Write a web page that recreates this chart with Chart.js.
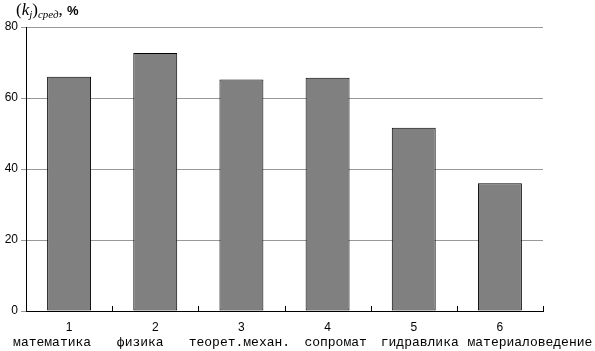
<!DOCTYPE html>
<html>
<head>
<meta charset="utf-8">
<script src="https://cdn.jsdelivr.net/npm/chart.js@4"></script>
<style>
  body { margin: 0; background: #fff; }
  #wrap { position: relative; width: 595px; height: 351px; }
  #ttl { position: absolute; left: 16px; top: 0px; font-family: "Liberation Serif", serif; font-size: 17px; color: #000; white-space: nowrap; }
  #ttl i { font-style: italic; }
  #ttl sub { font-size: 11px; font-style: italic; vertical-align: -3px; }
  #ttl b { font-family: "Liberation Sans", Arial, sans-serif; font-size: 13px; }
</style>
</head>
<body>
<div id="wrap">
  <canvas id="chart" width="595" height="351"></canvas>
  <div id="ttl">(<i>k<sub>j</sub></i>)<sub>сред</sub>, <b>%</b></div>
</div>
<script>
const numbers = ["1", "2", "3", "4", "5", "6"];
const subjects = ["математика", "физика", "теорет.механ.", "сопромат", "гидравлика", "материаловедение"];
const values = [66, 72.7, 65.2, 65.7, 51.6, 36];
const yTicks = [0, 20, 40, 60, 80];
// horizontal shift of each subject name relative to its category centre
const nameShift = [-17, -15, -2, 8, 6, 30];

// short tick marks above the x axis at category boundaries + two-line category labels
const xLabels = {
  id: "xLabels",
  afterDraw(chart) {
    const area = chart.chartArea;
    const x = chart.scales.x;
    const ctx = chart.ctx;
    const step = (area.right - area.left) / numbers.length;
    ctx.save();
    ctx.strokeStyle = "#000";
    ctx.lineWidth = 1;
    for (let i = 1; i <= numbers.length; i++) {
      const px = Math.round(area.left + step * i) + 0.5;
      ctx.beginPath();
      ctx.moveTo(px, area.bottom);
      ctx.lineTo(px, area.bottom - 5);
      ctx.stroke();
    }
    ctx.fillStyle = "#000";
    ctx.textAlign = "center";
    ctx.textBaseline = "middle";
    numbers.forEach((n, i) => {
      const cx = x.getPixelForValue(i);
      ctx.font = "12px 'Liberation Sans'";
      ctx.fillText(n, cx, area.bottom + 17);
      ctx.font = "13px 'Liberation Mono'";
      ctx.fillText(subjects[i], cx + nameShift[i], area.bottom + 32);
    });
    ctx.restore();
  }
};

new Chart(document.getElementById("chart").getContext("2d"), {
  type: "bar",
  data: {
    labels: numbers,
    datasets: [{
      data: values,
      backgroundColor: "#808080",
      borderColor: "#000",
      borderWidth: 1,
      borderSkipped: false,
      categoryPercentage: 1,
      barPercentage: 0.51
    }]
  },
  options: {
    responsive: false,
    animation: false,
    layout: { padding: { top: 27, right: 52, left: 0, bottom: 0 } },
    plugins: { legend: { display: false }, tooltip: { enabled: false } },
    scales: {
      x: {
        grid: { display: false },
        border: { color: "#000", width: 1 },
        ticks: { display: false },
        afterFit(s) { s.height = 40; }
      },
      y: {
        min: 0,
        max: 80,
        afterBuildTicks(s) { s.ticks = yTicks.map(v => ({ value: v })); },
        grid: { color: "#999", tickLength: 5 },
        border: { color: "#000", width: 1 },
        ticks: {
          color: "#000",
          padding: 3,
          font: { family: "Liberation Sans", size: 12 }
        },
        afterFit(s) { s.width = 26; }
      }
    }
  },
  plugins: [xLabels]
});
</script>
</body>
</html>
